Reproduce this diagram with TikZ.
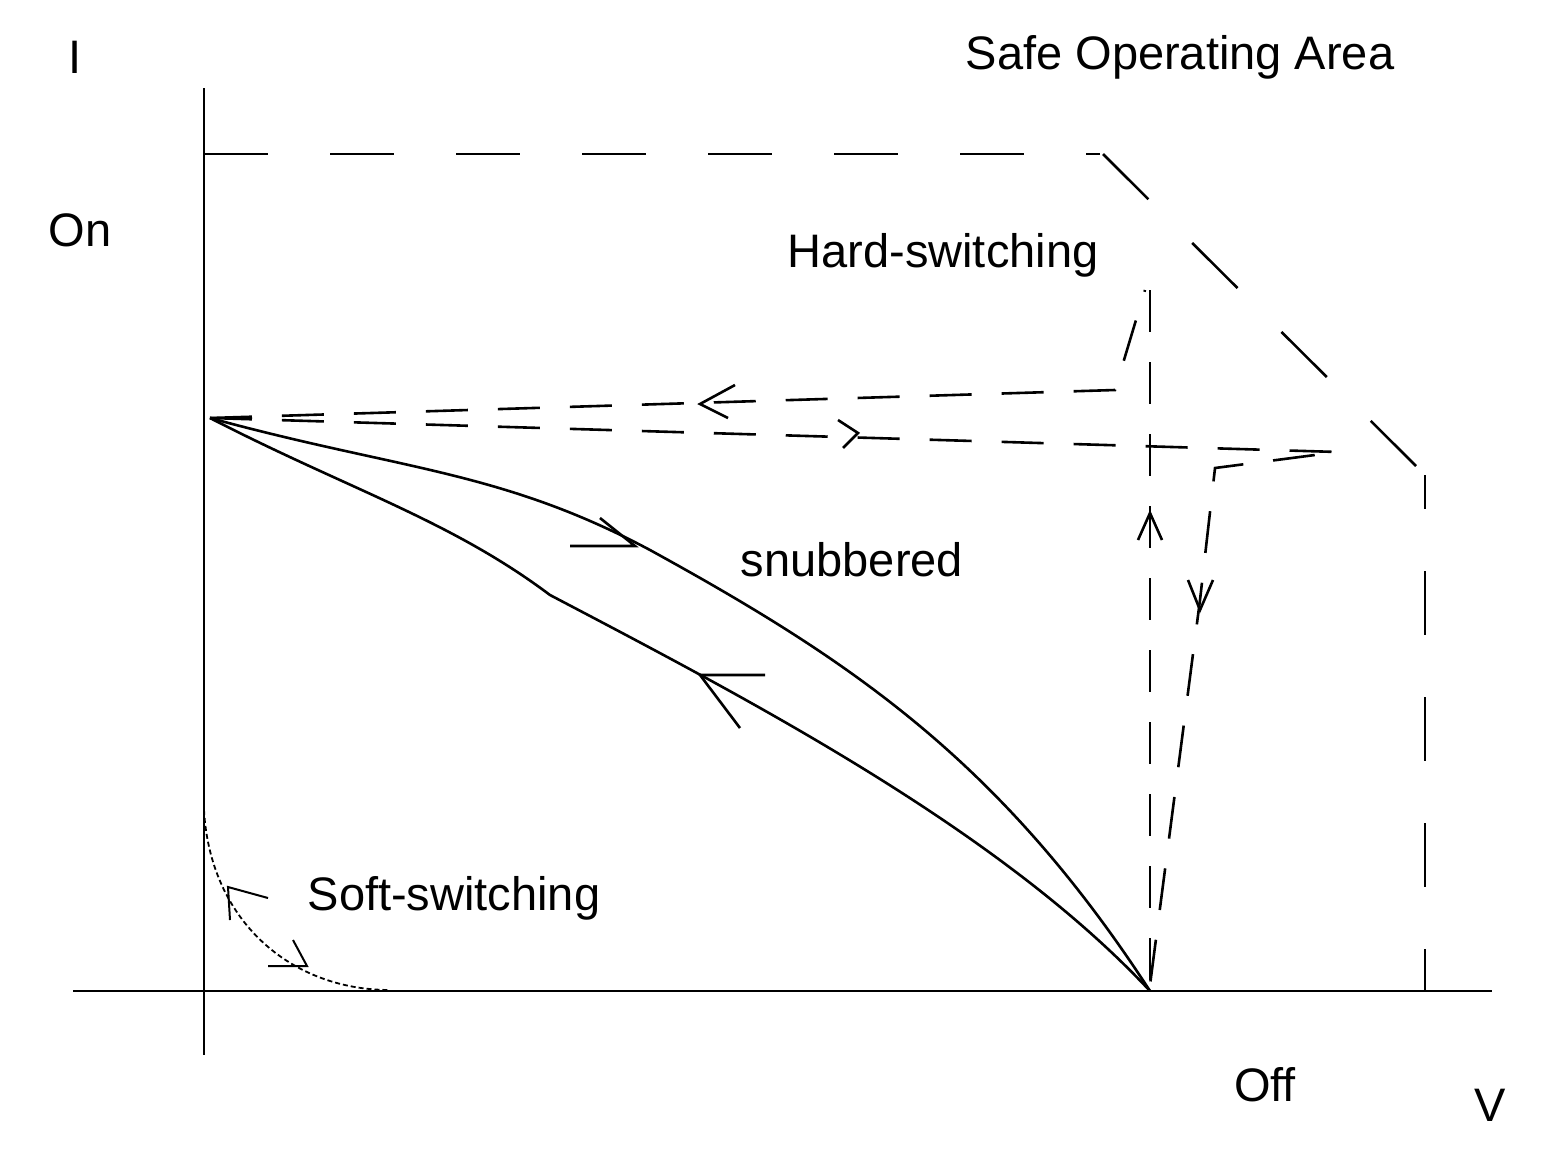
\documentclass[tikz,border=0pt]{standalone}
\usepackage{fontspec}
\setmainfont{Liberation Sans}
\begin{document}
\begin{tikzpicture}[x=1pt,y=-1pt,line width=2.6pt,
  lbl/.style={font=\fontsize{47}{50}\selectfont,inner sep=0pt},
  dsh/.style={dash pattern=on 64pt off 62pt},
  dsh2/.style={dash pattern=on 42pt off 30pt}]
\useasboundingbox (0,0) rectangle (1555,1152);
% axes
\draw (204,88) -- (204,1055);
\draw (73,991) -- (1492,991);
% SOA
\draw[dsh] (204,154) -- (1100,154);
\draw[dsh] (1103,154) -- (1425,475);
\draw[dsh,dash phase=30] (1425,475) -- (1425,991);
% hard switching
\draw[dsh2] (210,418) -- (1115,390) -- (1145,290);
\draw[dsh2] (1150,290) -- (1150,991);
\draw[dsh2] (210,418) -- (1338,452) -- (1215,468) -- (1200,600) -- (1150,985);
\draw (735,385) -- (700,404) -- (728,418);
\draw (838,420) -- (858,433) -- (843,448);
\draw (1138,540) -- (1150,513) -- (1162,540);
\draw (1188,580) -- (1200,610) -- (1213,580);
% snubbered
\draw (210,418) .. controls (400,470) and (500,470) .. (650,550)
  .. controls (850,660) and (1000,760) .. (1150,991);
\draw (210,418) .. controls (350,490) and (450,520) .. (550,595)
  .. controls (750,700) and (1000,830) .. (1150,991);
\draw (570,546) -- (635,546) -- (600,518);
\draw (765,675) -- (700,675) -- (740,728);
% soft switching
\draw[line width=1.8pt,dash pattern=on 5pt off 3pt] (204,810) .. controls (210,920) and (290,990) .. (390,990);
\draw[line width=2pt] (268,898) -- (228,887) -- (230,920);
\draw[line width=2pt] (293,940) -- (307,966) -- (268,966);
% labels
\node[lbl] (tI) at (75,57) {I};
\node[lbl] (tsoa) at (1180,57) {Safe Operating Area};
\node[lbl] (ton) at (80,230) {On};
\node[lbl] (thard) at (943,255) {Hard-switching};
\node[lbl] (tsnub) at (852,560) {snubbered};
\node[lbl] (tsoft) at (454,898) {Soft-switching};
\node[lbl] (toff) at (1265,1085) {Off};
\node[lbl] (tV) at (1490,1105) {V};
\end{tikzpicture}
\end{document}
